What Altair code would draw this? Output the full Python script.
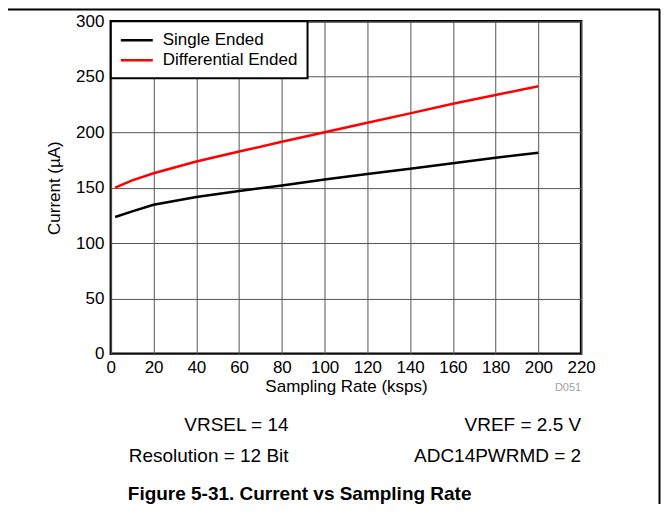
import altair as alt
import pandas as pd

# ---- data ----
rate = [2, 10, 20, 40, 60, 80, 100, 120, 140, 160, 180, 200]
single_ended = [123.5, 128.5, 134.5, 141.5, 147, 152, 157.4, 162.2, 167, 172, 177, 181.4]
differential = [150, 156.5, 163, 173.5, 182.5, 191.3, 200, 208.5, 217, 225.6, 233.5, 241.5]
series_names = ["Single Ended", "Differential Ended"]
series_colors = ["black", "red"]
x_ticks = list(range(0, 221, 20))
y_ticks = list(range(0, 301, 50))
notes_right = ["VRSEL = 14", "Resolution = 12 Bit", "VREF = 2.5 V", "ADC14PWRMD = 2"]
caption = "Figure 5-31. Current vs Sampling Rate"
figure_id = "D051"

FONT = "Liberation Sans, Arial"
W, H = 471, 333

rows = []
for name, vals in zip(series_names, [single_ended, differential]):
    for x, v in zip(rate, vals):
        rows.append({"rate": x, "current": v, "series": name})
df = pd.DataFrame(rows)

lines = alt.Chart(df).mark_line(strokeWidth=2.5).encode(
    x=alt.X("rate:Q", scale=alt.Scale(domain=[0, 220], nice=False),
            axis=alt.Axis(values=x_ticks, title="Sampling Rate (ksps)", format="d", labelFlush=False)),
    y=alt.Y("current:Q", scale=alt.Scale(domain=[0, 300], nice=False),
            axis=alt.Axis(values=y_ticks, title="Current (µA)", format="d", labelFlush=False)),
    color=alt.Color("series:N", scale=alt.Scale(domain=series_names, range=series_colors), legend=None),
    detail="series:N",
)

# legend (manual, inside top-left)
leg = pd.DataFrame({"label": series_names, "color": series_colors, "ly": [19, 39]})
leg_box = alt.Chart(pd.DataFrame({"a": [0]})).mark_rect(
    fill="white", stroke="black", strokeWidth=2).encode(
    x=alt.value(0), x2=alt.value(197), y=alt.value(0), y2=alt.value(57))
leg_lines = alt.Chart(leg).mark_rule(strokeWidth=2.5).encode(
    x=alt.value(10), x2=alt.value(42),
    y=alt.Y("ly:Q", scale=None, axis=None),
    color=alt.Color("color:N", scale=None, legend=None))
leg_text = alt.Chart(leg).mark_text(align="left", baseline="middle", fontSize=17, font=FONT, color="black").encode(
    x=alt.value(52), y=alt.Y("ly:Q", scale=None, axis=None), text="label:N")

# notes below the chart
notes = pd.DataFrame({"t": notes_right, "nx": [178, 178, 471, 471], "ny": [404, 435, 404, 435]})
notes_layer = alt.Chart(notes).mark_text(align="right", baseline="middle", fontSize=19, font=FONT, color="black").encode(
    x=alt.X("nx:Q", scale=None, axis=None), y=alt.Y("ny:Q", scale=None, axis=None), text="t:N")
cap = alt.Chart(pd.DataFrame({"t": [caption]})).mark_text(
    align="left", baseline="middle", fontSize=19, fontWeight="bold", font=FONT, color="black").encode(
    x=alt.value(17), y=alt.value(473), text="t:N")
fid = alt.Chart(pd.DataFrame({"t": [figure_id]})).mark_text(
    align="right", baseline="middle", fontSize=11, font=FONT, color="#a0a0a0").encode(
    x=alt.value(471), y=alt.value(367), text="t:N")

# outer frame (top and right edges)
one = pd.DataFrame({"a": [0]})
frame_top = alt.Chart(one).mark_rule(color="black", strokeWidth=2).encode(
    x=alt.value(-103), x2=alt.value(550), y=alt.value(-12))
frame_right = alt.Chart(one).mark_rule(color="black", strokeWidth=2).encode(
    x=alt.value(549.5), y=alt.value(-12), y2=alt.value(490))

chart = alt.layer(
    lines, leg_box, leg_lines, leg_text, notes_layer, cap, fid, frame_top, frame_right
).resolve_scale(x="independent", y="independent", color="independent").properties(
    width=W, height=H,
    autosize=alt.AutoSizeParams(type="none"),
    padding={"left": 103, "top": 13, "right": 80, "bottom": 150},
).configure_view(
    stroke="black", strokeWidth=2.5
).configure_axis(
    labelFont=FONT, titleFont=FONT, labelFontSize=17, titleFontSize=17,
    labelColor="black", titleColor="black", titleFontWeight="normal",
    grid=True, gridColor="#555555", gridWidth=1, gridOpacity=1,
    domain=False, ticks=False,
).configure_axisX(
    labelPadding=6, titlePadding=3
).configure_axisY(
    labelPadding=7, titlePadding=12
)

chart.save("out.html", embed_options={"renderer": "svg", "actions": False})
